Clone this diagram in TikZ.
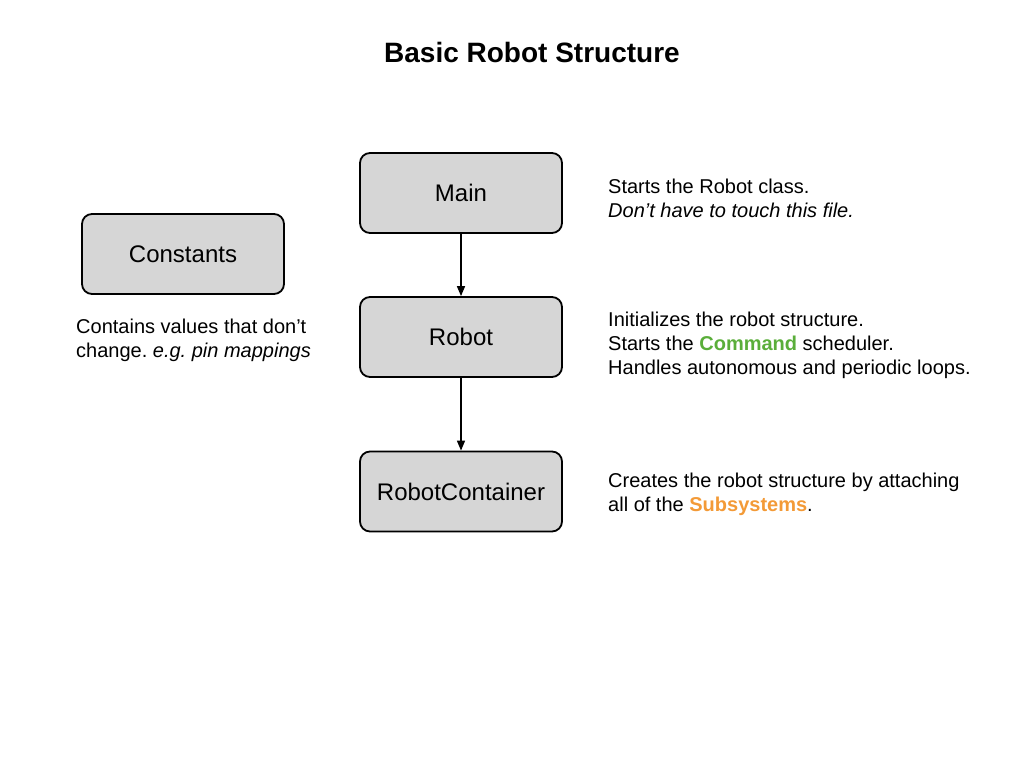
\documentclass[tikz,border=0pt]{standalone}
\usepackage{fontspec}
\setmainfont{Liberation Sans}
\usetikzlibrary{arrows.meta}
\definecolor{boxgray}{HTML}{D6D6D6}
\definecolor{cmdgreen}{HTML}{5AAE3A}
\definecolor{suborange}{HTML}{F39A37}
\begin{document}
\frenchspacing
\begin{tikzpicture}[x=1pt,y=-1pt,
  block/.style={draw=black, fill=boxgray, line width=1.8pt, rounded corners=10pt,
    minimum width=202pt, minimum height=80pt, inner sep=0pt,
    font=\fontsize{24}{28}\selectfont},
  desc/.style={anchor=base west, align=left, inner sep=0pt,
    font=\fontsize{20}{24}\selectfont\frenchspacing},
  conn/.style={line width=1.5pt, -{Triangle[length=10pt,width=8pt]}}]
\useasboundingbox (0,0) rectangle (1024,768);
\node[anchor=base, font=\fontsize{28}{32}\selectfont\bfseries, inner sep=0pt] (title) at (532,63) {Basic Robot Structure};
\node[block] (main) at (461,193) {Main};
\node[block] (robot) at (461,337) {Robot};
\node[block] (container) at (461,491.5) {RobotContainer};
\node[block] (constants) at (183,254) {Constants};
\draw[conn] (main) -- (robot);
\draw[conn] (robot) -- (container);
\node[desc] (dmain) at (608,217) {Starts the Robot class.\\\itshape Don’t have to touch this file.};
\node[desc] (drobot) at (608,374) {Initializes the robot structure.\\Starts the \textcolor{cmdgreen}{\bfseries Command} scheduler.\\Handles autonomous and periodic loops.};
\node[desc] (dcont) at (608,511) {Creates the robot structure by attaching\\all of the \textcolor{suborange}{\bfseries Subsystems}.};
\node[desc] (dconst) at (76,357) {Contains values that don’t\\change. {\itshape e.g. pin mappings}};
\end{tikzpicture}
\end{document}
